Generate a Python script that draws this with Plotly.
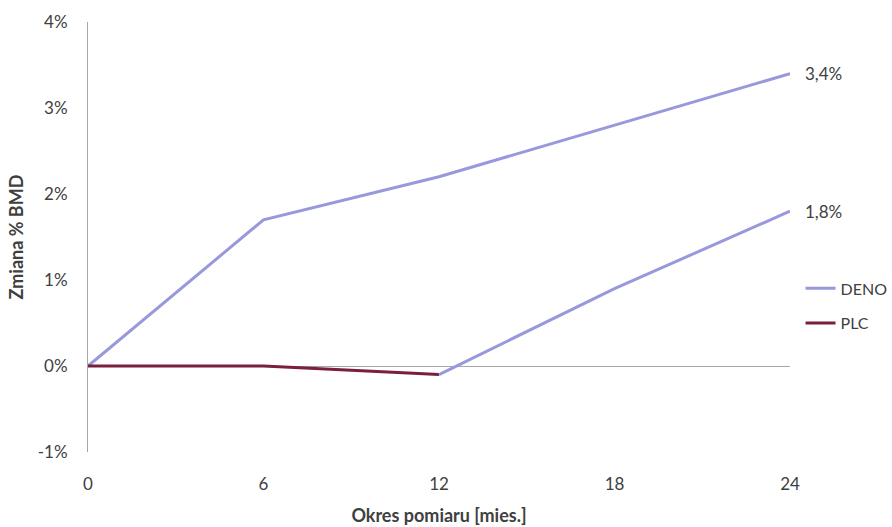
import plotly.graph_objects as go

# Months of measurement
months = [0, 6, 12, 18, 24]

# Percent change in BMD
deno = [0.0, 1.7, 2.2, 2.8, 3.4]
plc = [0.0, 0.0, -0.1]
plc_months = [0, 6, 12]
crossover = [-0.1, 0.9, 1.8]
crossover_months = [12, 18, 24]

x_ticks = [0, 6, 12, 18, 24]
y_ticks = [-1, 0, 1, 2, 3, 4]
y_tick_text = [f"{v}%" for v in y_ticks]

DENO_COLOR = "#9898dc"
PLC_COLOR = "#7b1f3c"
TEXT_COLOR = "#404040"
FONT = "Lato, Open Sans, sans-serif"

fig = go.Figure()

fig.add_trace(go.Scatter(
    x=months, y=deno, mode="lines", name="DENO",
    line=dict(color=DENO_COLOR, width=3), legendgroup="a",
))
fig.add_trace(go.Scatter(
    x=plc_months, y=plc, mode="lines", name="PLC",
    line=dict(color=PLC_COLOR, width=3), legendgroup="b",
))
fig.add_trace(go.Scatter(
    x=crossover_months, y=crossover, mode="lines", name="PLC→DENO",
    line=dict(color=DENO_COLOR, width=3), showlegend=False,
))

# End-of-line value labels
for xs, ys in [(months, deno), (crossover_months, crossover)]:
    fig.add_annotation(
        x=xs[-1], y=ys[-1], text=f"{ys[-1]:.1f}%".replace(".", ","),
        showarrow=False, xanchor="left", xshift=13,
        font=dict(family=FONT, size=17, color=TEXT_COLOR),
    )

fig.update_layout(
    width=892, height=527,
    margin=dict(l=88, r=102, t=22, b=75, autoexpand=False),
    paper_bgcolor="white", plot_bgcolor="white",
    font=dict(family=FONT, size=17, color=TEXT_COLOR),
    legend=dict(
        x=1.015, y=0.42, xanchor="left", yanchor="top",
        font=dict(family=FONT, size=16, color=TEXT_COLOR),
        tracegroupgap=11, bgcolor="rgba(0,0,0,0)",
    ),
    xaxis=dict(
        range=[0, 24], tickvals=x_ticks, showgrid=False, zeroline=False,
        showline=False, ticks="", ticklabelstandoff=20, automargin=False,
        title=dict(text="<b>Okres pomiaru [mies.]</b>", standoff=16,
                   font=dict(size=18, color=TEXT_COLOR)),
    ),
    yaxis=dict(
        range=[-1, 4], tickvals=y_ticks, ticktext=y_tick_text,
        showgrid=False, zeroline=True, zerolinecolor="#a6a6a6", zerolinewidth=1,
        showline=True, linecolor="#a6a6a6", linewidth=1, ticks="",
        ticklabelstandoff=16, automargin=False,
        title=dict(text="<b>Zmiana % BMD</b>", standoff=9,
                   font=dict(size=18, color=TEXT_COLOR)),
    ),
)

fig.write_html("out.html")
